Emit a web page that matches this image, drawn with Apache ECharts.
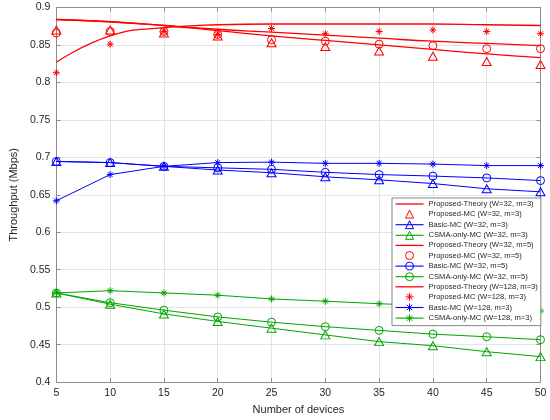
<!DOCTYPE html>
<html>
<head>
<meta charset="utf-8">
<script src="https://cdn.jsdelivr.net/npm/echarts@6/dist/echarts.min.js"></script>
<style>
  html, body { margin: 0; padding: 0; background: #fff; }
  #chart { width: 550px; height: 420px; }
</style>
</head>
<body>
<div id="chart"></div>
<script>
// number of devices on the x axis
const devices = [5, 10, 15, 20, 25, 30, 35, 40, 45, 50]

// throughput values (Mbps)
const theoryW32m3 = [0.884, 0.881, 0.876, 0.869, 0.862, 0.856, 0.850, 0.844, 0.838, 0.833]
const propMcW32m3 = [0.870, 0.870, 0.866, 0.862, 0.853, 0.848, 0.842, 0.835, 0.828, 0.824]
const basicW32m3 = [0.6945, 0.693, 0.688, 0.683, 0.6795, 0.674, 0.670, 0.665, 0.658, 0.654]
const csmaW32m3 = [0.519, 0.504, 0.491, 0.481, 0.472, 0.463, 0.454, 0.4486, 0.4406, 0.434]

const theoryW32m5 = [0.884, 0.881, 0.876, 0.871, 0.867, 0.863, 0.859, 0.855, 0.852, 0.849]
const propMcW32m5 = [0.866, 0.868, 0.868, 0.864, 0.857, 0.855, 0.851, 0.849, 0.845, 0.845]
const basicW32m5 = [0.6945, 0.693, 0.688, 0.686, 0.684, 0.680, 0.677, 0.675, 0.6725, 0.669]
const csmaW32m5 = [0.519, 0.506, 0.496, 0.487, 0.480, 0.474, 0.469, 0.464, 0.4605, 0.4566]

const theoryW128m3 = [0.827, 0.862, 0.873, 0.877, 0.878, 0.878, 0.878, 0.878, 0.877, 0.876]
const propMcW128m3 = [0.813, 0.851, 0.868, 0.864, 0.872, 0.865, 0.868, 0.870, 0.868, 0.865]
const basicW128m3 = [0.642, 0.677, 0.688, 0.693, 0.6936, 0.692, 0.692, 0.691, 0.689, 0.689]
const csmaW128m3 = [0.519, 0.522, 0.519, 0.516, 0.511, 0.508, 0.5046, 0.502, 0.499, 0.495]

const RED = '#ff0000'
const BLUE = '#0000ff'
const GREEN = '#00a600'
const AXIS = '#8c8c8c'
const TEXT = '#262626'
const FONT = 'Liberation Sans, Arial, sans-serif'

// MATLAB style asterisk marker
const STAR = 'path://M0,5L10,5M5,0L5,10M1.6,1.6L8.4,8.4M8.4,1.6L1.6,8.4'
// thin bar used as legend icon for the theory curves
const LINE_ICON = 'path://M0,0L28,0L28,1.3L0,1.3Z'

const pairs = (values) => devices.map((d, i) => [d, values[i]])

const markerStyle = (color) => ({
  color: 'rgba(0,0,0,0)',
  borderColor: color,
  borderWidth: 1,
})

// theory curve: plain smooth line
const theory = (name, values) => ({
  name,
  type: 'line',
  data: pairs(values),
  smooth: true,
  symbol: 'none',
  lineStyle: { color: RED, width: 1.3 },
  itemStyle: { color: RED },
})

// monte carlo: markers only (line kept invisible so the legend icon matches)
const mcPoints = (name, values, symbol, size) => ({
  name,
  type: 'line',
  data: pairs(values),
  symbol,
  symbolSize: size,
  showAllSymbol: true,
  lineStyle: { color: RED, opacity: 0 },
  itemStyle: markerStyle(RED),
})

// simulated line with markers
const mcLine = (name, values, color, symbol, size) => ({
  name,
  type: 'line',
  data: pairs(values),
  symbol,
  symbolSize: size,
  showAllSymbol: true,
  lineStyle: { color, width: 1 },
  itemStyle: markerStyle(color),
})

const series = [
  theory('Proposed-Theory (W=32, m=3)', theoryW32m3),
  mcPoints('Proposed-MC (W=32, m=3)', propMcW32m3, 'triangle', [9, 8]),
  mcLine('Basic-MC (W=32, m=3)', basicW32m3, BLUE, 'triangle', [9, 8]),
  mcLine('CSMA-only-MC (W=32, m=3)', csmaW32m3, GREEN, 'triangle', [9, 8]),
  theory('Proposed-Theory (W=32, m=5)', theoryW32m5),
  mcPoints('Proposed-MC (W=32, m=5)', propMcW32m5, 'circle', 8),
  mcLine('Basic-MC (W=32, m=5)', basicW32m5, BLUE, 'circle', 8),
  mcLine('CSMA-only-MC (W=32, m=5)', csmaW32m5, GREEN, 'circle', 8),
  theory('Proposed-Theory (W=128, m=3)', theoryW128m3),
  mcPoints('Proposed-MC (W=128, m=3)', propMcW128m3, STAR, 7),
  mcLine('Basic-MC (W=128, m=3)', basicW128m3, BLUE, STAR, 7),
  mcLine('CSMA-only-MC (W=128, m=3)', csmaW128m3, GREEN, STAR, 7),
]

const legendData = series.map((s) =>
  s.symbol === 'none' ? { name: s.name, icon: LINE_ICON } : { name: s.name }
)

const baseAxis = {
  type: 'value',
  axisLine: { show: true, lineStyle: { color: AXIS, width: 1 } },
  axisTick: { show: true, inside: true, length: 4, lineStyle: { color: AXIS } },
  splitLine: { show: false },
  axisLabel: { show: false },
}

const chart = echarts.init(document.getElementById('chart'), null, { renderer: 'canvas' })

chart.setOption({
  animation: false,
  backgroundColor: '#fff',
  grid: { left: 43, right: 9.5, top: 7.5, bottom: 35 },
  legend: {
    orient: 'vertical',
    left: 392,
    top: 198,
    backgroundColor: '#fff',
    borderColor: '#555',
    borderWidth: 0.7,
    borderRadius: 0,
    padding: [2, 3, 3, 3],
    itemGap: 1.6,
    itemWidth: 28,
    itemHeight: 10,
    symbolKeepAspect: true,
    itemStyle: { borderWidth: 1 },
    lineStyle: { width: 1.1 },
    textStyle: { fontFamily: FONT, fontSize: 7.6, color: TEXT },
    data: legendData,
  },
  xAxis: [
    {
      ...baseAxis,
      min: 5,
      max: 50,
      interval: 5,
      position: 'bottom',
      name: 'Number of devices',
      nameLocation: 'middle',
      nameGap: 21,
      nameTextStyle: { fontFamily: FONT, fontSize: 11, color: TEXT },
      splitLine: { show: true, lineStyle: { color: '#e4e4e4', width: 1 } },
      axisLabel: { show: true, margin: 6, fontFamily: FONT, fontSize: 10.5, color: TEXT },
    },
    { ...baseAxis, min: 5, max: 50, interval: 5, position: 'top' },
  ],
  yAxis: [
    {
      ...baseAxis,
      min: 0.4,
      max: 0.9,
      interval: 0.05,
      position: 'left',
      name: 'Throughput (Mbps)',
      nameLocation: 'middle',
      nameGap: 28,
      nameTextStyle: { fontFamily: FONT, fontSize: 11, color: TEXT },
      splitLine: { show: true, lineStyle: { color: '#e4e4e4', width: 1 } },
      axisLabel: { show: true, margin: 6, fontFamily: FONT, fontSize: 10.5, color: TEXT },
    },
    { ...baseAxis, min: 0.4, max: 0.9, interval: 0.05, position: 'right' },
  ],
  series,
})
</script>
</body>
</html>
